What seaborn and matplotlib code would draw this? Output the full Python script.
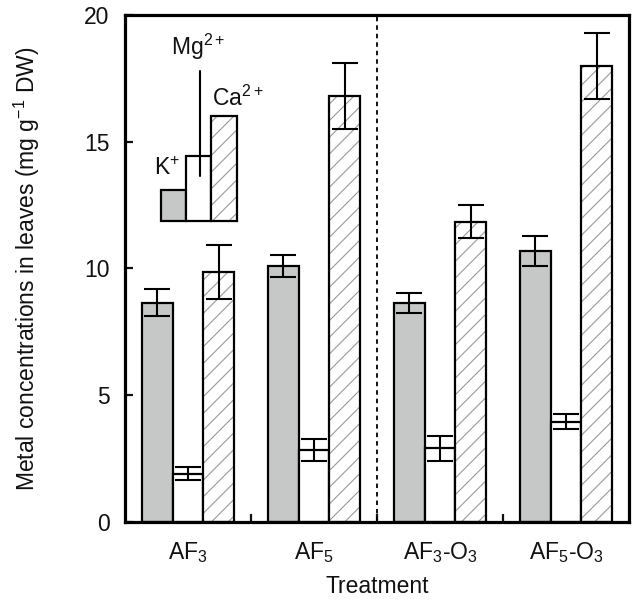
import numpy as np
import pandas as pd
import matplotlib
matplotlib.use("Agg")
import matplotlib.pyplot as plt
from matplotlib.patches import Rectangle
import seaborn as sns

treatments = ['AF$_3$', 'AF$_5$', 'AF$_3$-O$_3$', 'AF$_5$-O$_3$']
ions = ['K', 'Mg', 'Ca']
k_vals = [8.65, 10.1, 8.65, 10.7]
k_err = [0.53, 0.45, 0.4, 0.6]
mg_vals = [1.9, 2.85, 2.9, 3.95]
mg_err = [0.25, 0.43, 0.5, 0.3]
ca_vals = [9.85, 16.8, 11.85, 18.0]
ca_err = [1.07, 1.3, 0.65, 1.3]

sns.set_style("ticks")
plt.rcParams['font.family'] = ['Liberation Sans', 'DejaVu Sans']
plt.rcParams['mathtext.fontset'] = 'custom'
plt.rcParams['mathtext.rm'] = 'Liberation Sans'
plt.rcParams['mathtext.it'] = 'Liberation Sans'
plt.rcParams['mathtext.default'] = 'regular'
plt.rcParams['hatch.linewidth'] = 0.8
for key in ['text.color', 'axes.labelcolor', 'xtick.color', 'ytick.color']:
    plt.rcParams[key] = '#111111'

df = pd.DataFrame({
    'Treatment': treatments * 3,
    'ion': ['K'] * 4 + ['Mg'] * 4 + ['Ca'] * 4,
    'value': k_vals + mg_vals + ca_vals,
})
errs = {'K': k_err, 'Mg': mg_err, 'Ca': ca_err}

gray = '#c6c8c7'
hatch_col = '#999999'
lw = 1.6
fs = 16.5

fig = plt.figure(figsize=(6.33, 6.02), dpi=100)
ax = fig.add_axes([0.1975, 0.1329, 0.7962, 0.8422])

sns.barplot(data=df, x='Treatment', y='value', hue='ion', hue_order=ions,
            palette={'K': gray, 'Mg': 'white', 'Ca': 'white'},
            width=0.73, edgecolor='black', linewidth=lw, ax=ax,
            legend=False, errorbar=None)

for cont, ion in zip(ax.containers, ions):
    xs = []
    for p in cont:
        xs.append(p.get_x() + p.get_width() / 2)
        if ion == 'Ca':
            p.set_hatch('//')
            p.set_edgecolor(hatch_col)
            p.set_linewidth(0)
            ax.add_patch(Rectangle((p.get_x(), 0), p.get_width(), p.get_height(),
                                   fill=False, edgecolor='black', linewidth=lw, zorder=3))
    vals = df.loc[df['ion'] == ion, 'value'].values
    ax.errorbar(xs, vals, yerr=errs[ion], fmt='none', ecolor='black',
                elinewidth=1.5, capsize=9.5, capthick=1.5, zorder=4)

ax.axvline(1.5, color='black', linestyle=(0, (2.5, 2.2)), linewidth=1.3)

ax.set_xlim(-0.5, 3.5)
ax.set_ylim(0, 20)
ax.set_yticks([0, 5, 10, 15, 20])
ax.set_xticks([0.5, 1.5, 2.5], minor=True)
ax.tick_params(axis='x', which='major', length=0, labelsize=fs, pad=13)
ax.tick_params(axis='x', which='minor', direction='in', length=6, width=1.6)
ax.tick_params(axis='y', direction='in', length=6, width=1.6, labelsize=fs, pad=11)
for s in ax.spines.values():
    s.set_visible(True)
    s.set_linewidth(2.3)
    s.set_color('black')
ax.set_xlabel('Treatment', fontsize=fs, labelpad=7)
ax.set_ylabel('Metal concentrations in leaves (mg g$^{-1}$ DW)', fontsize=fs)
ax.yaxis.set_label_coords(-0.165, 0.5)

# inset legend
tr = ax.transAxes
ax.add_patch(Rectangle((0.0714, 0.5937), 0.0496, 0.0611, facecolor=gray,
                       edgecolor='black', linewidth=lw, transform=tr))
ax.add_patch(Rectangle((0.121, 0.5937), 0.0496, 0.128, facecolor='white',
                       edgecolor='black', linewidth=lw, transform=tr))
ax.add_patch(Rectangle((0.1706, 0.5937), 0.0516, 0.207, facecolor='white', hatch='//',
                       edgecolor=hatch_col, linewidth=0, transform=tr))
ax.add_patch(Rectangle((0.1706, 0.5937), 0.0516, 0.207, fill=False,
                       edgecolor='black', linewidth=lw, transform=tr))
ax.plot([0.1488, 0.1488], [0.6824, 0.8895], color='black', linewidth=1.5, transform=tr)
ax.text(0.057, 0.697, 'K$^{+}$', transform=tr, fontsize=fs, va='center', ha='left')
ax.text(0.092, 0.938, 'Mg$^{2+}$', transform=tr, fontsize=fs, va='center', ha='left')
ax.text(0.173, 0.836, 'Ca$^{2+}$', transform=tr, fontsize=fs, va='center', ha='left')

fig.savefig('out.png', dpi=100)
